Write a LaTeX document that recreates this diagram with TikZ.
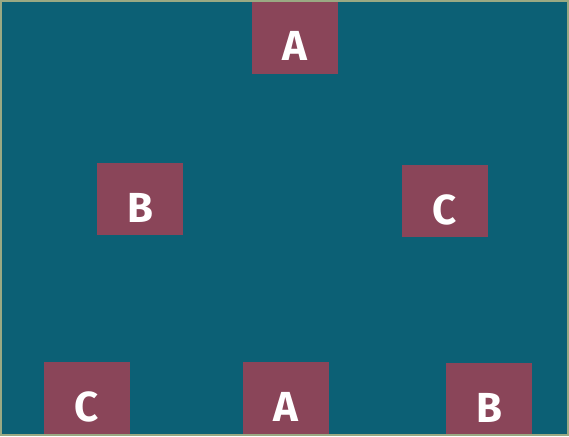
\documentclass[tikz,border=0pt]{standalone}
\usepackage{fontspec}
\setmainfont{Fira Sans}
\usepackage{xcolor}
\definecolor{sea}{HTML}{0C6075}
\definecolor{plum}{HTML}{8A4559}
\definecolor{rim}{HTML}{9AA983}

\begin{document}
\begin{tikzpicture}[x=1pt, y=-1pt,
  tile/.style={fill=plum, text=white, minimum width=86pt, minimum height=72pt,
    inner sep=0pt, text height=46pt, text depth=0pt,
    font=\fontsize{42}{42}\selectfont\bfseries}]
  \fill[sea] (0,0) rectangle (569,436);
  \node[tile] (top) at (295,37.5) {A};
  \node[tile] (left) at (140,199) {B};
  \node[tile] (right) at (445,201) {C};
  \node[tile] (ll) at (87,398) {C};
  \node[tile] (lm) at (286,398) {A};
  \node[tile] (lr) at (489,399) {B};
  \draw[rim, line width=2pt] (1,1) rectangle (568,435);
  \useasboundingbox (0,0) rectangle (569,436);
\end{tikzpicture}
\end{document}
